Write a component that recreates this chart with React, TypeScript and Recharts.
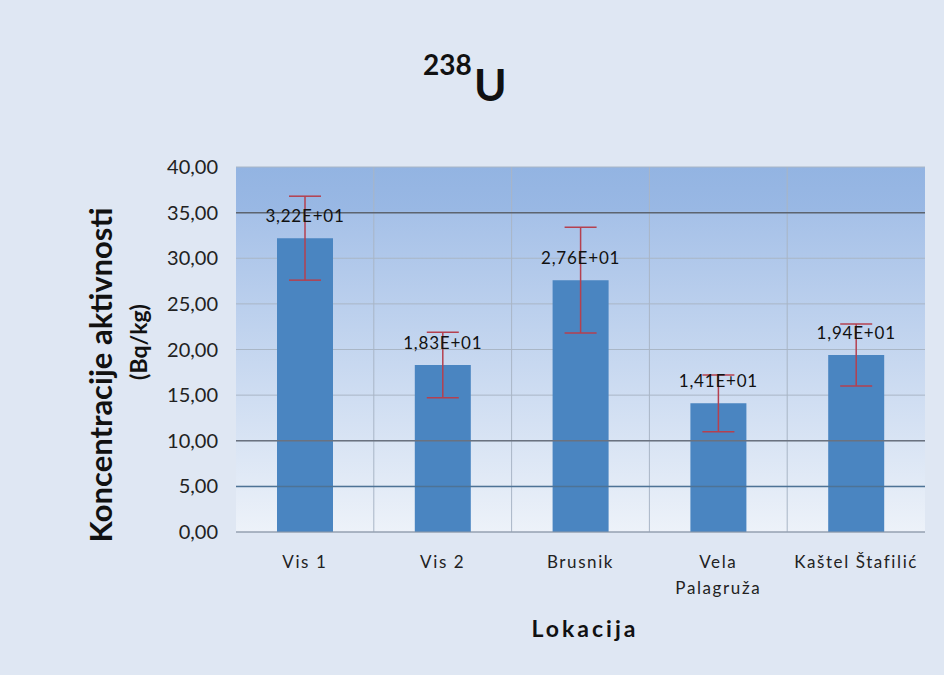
import {
  Bar,
  BarChart,
  CartesianGrid,
  ErrorBar,
  LabelList,
  ReferenceLine,
  XAxis,
  YAxis,
} from 'recharts'

const LOCATIONS = ['Vis 1', 'Vis 2', 'Brusnik', 'Vela Palagruža', 'Kaštel Štafilić']
const U238 = [32.2, 18.3, 27.6, 14.1, 19.4]
const U238_ERR = [4.6, 3.6, 5.8, 3.1, 3.4]
const Y_TICKS = [0, 5, 10, 15, 20, 25, 30, 35, 40]

const data = LOCATIONS.map((name, i) => ({ name, value: U238[i], err: U238_ERR[i] }))

const FONT = 'Lato, "Open Sans", sans-serif'

const fmtComma = (v: number) => v.toFixed(2).replace('.', ',')

// 3.22e+1 -> 3,22E+01
const fmtSci = (v: number) => {
  const [m, e] = v.toExponential(2).split('e')
  const sign = e.startsWith('-') ? '-' : '+'
  const exp = e.replace(/[+-]/, '').padStart(2, '0')
  return `${m.replace('.', ',')}E${sign}${exp}`
}

function XTick({ x, y, payload }: { x?: number; y?: number; payload?: { value: string } }) {
  const label = payload?.value ?? ''
  const lines = label === 'Vela Palagruža' ? ['Vela', 'Palagruža'] : [label]
  return (
    <text
      x={x}
      y={(y ?? 0) + 28}
      textAnchor="middle"
      fill="#222"
      fontSize={17}
      fontFamily={FONT}
      letterSpacing={1.6}
    >
      {lines.map((l, i) => (
        <tspan key={l} x={x} dy={i === 0 ? 0 : 26}>
          {l}
        </tspan>
      ))}
    </text>
  )
}

function ValueLabel(props: any) {
  const { x, y, width, value } = props
  return (
    <text
      x={x + width / 2}
      y={y - 16}
      textAnchor="middle"
      fill="#111"
      fontSize={17}
      letterSpacing={0.8}
      fontFamily={FONT}
    >
      {fmtSci(Number(value))}
    </text>
  )
}

export default function App() {
  return (
    <div
      style={{
        position: 'absolute',
        left: 0,
        top: 0,
        width: 944,
        height: 675,
        background: '#dfe7f3',
        fontFamily: FONT,
        color: '#111',
      }}
    >
      <div
        style={{
          position: 'absolute',
          left: 423,
          top: 50,
          fontSize: 28,
          lineHeight: '28px',
          fontWeight: 700,
        }}
      >
        238
      </div>
      <div
        style={{
          position: 'absolute',
          left: 474,
          top: 62,
          fontSize: 44,
          lineHeight: '44px',
          fontWeight: 700,
        }}
      >
        U
      </div>

      <div
        style={{
          position: 'absolute',
          left: 100,
          top: 375,
          transform: 'translate(-50%, -50%) rotate(-90deg)',
          whiteSpace: 'nowrap',
          fontSize: 31,
          fontWeight: 700,
        }}
      >
        Koncentracije aktivnosti
      </div>
      <div
        style={{
          position: 'absolute',
          left: 138,
          top: 342,
          transform: 'translate(-50%, -50%) rotate(-90deg)',
          whiteSpace: 'nowrap',
          fontSize: 23,
          fontWeight: 700,
        }}
      >
        (Bq/kg)
      </div>

      <div
        style={{
          position: 'absolute',
          left: 585,
          top: 628,
          transform: 'translate(-50%, -50%)',
          whiteSpace: 'nowrap',
          fontSize: 23,
          fontWeight: 700,
          letterSpacing: 3,
        }}
      >
        Lokacija
      </div>

      <BarChart
        width={944}
        height={675}
        data={data}
        margin={{ top: 167, right: 19, bottom: 113, left: 0 }}
        barCategoryGap={0}
      >
        <defs>
          <linearGradient id="plotBg" x1="0" y1="0" x2="0" y2="1">
            <stop offset="0%" stopColor="#93b4e2" />
            <stop offset="12%" stopColor="#99b8e4" />
            <stop offset="13%" stopColor="#a6c1e8" />
            <stop offset="100%" stopColor="#edf2f9" />
          </linearGradient>
        </defs>
        <CartesianGrid
          fill="url(#plotBg)"
          stroke="#a9b6c6"
          strokeWidth={1}
          verticalCoordinatesGenerator={({ offset }: any) =>
            [1, 2, 3, 4].map((i) => offset.left + (offset.width * i) / LOCATIONS.length)
          }
        />
        <XAxis
          dataKey="name"
          height={30}
          axisLine={{ stroke: '#8a96a6' }}
          tickLine={false}
          interval={0}
          tick={<XTick />}
        />
        <YAxis
          width={236}
          domain={[0, 40]}
          ticks={Y_TICKS}
          tickFormatter={fmtComma}
          axisLine={false}
          tickLine={false}
          tickMargin={12}
          tick={{ fill: '#222', fontSize: 20, fontFamily: FONT }}
        />
        <ReferenceLine y={35} stroke="#5c6470" strokeWidth={1.5} />
        <ReferenceLine y={10} stroke="#6a7280" strokeWidth={1.5} />
        <ReferenceLine y={5} stroke="#4e7396" strokeWidth={1.5} />
        <Bar dataKey="value" fill="#4a85c1" barSize={56} isAnimationActive={false}>
          <ErrorBar dataKey="err" width={16} stroke="#b5404f" strokeWidth={1.5} direction="y" />
          <LabelList dataKey="value" content={<ValueLabel />} />
        </Bar>
      </BarChart>
    </div>
  )
}
